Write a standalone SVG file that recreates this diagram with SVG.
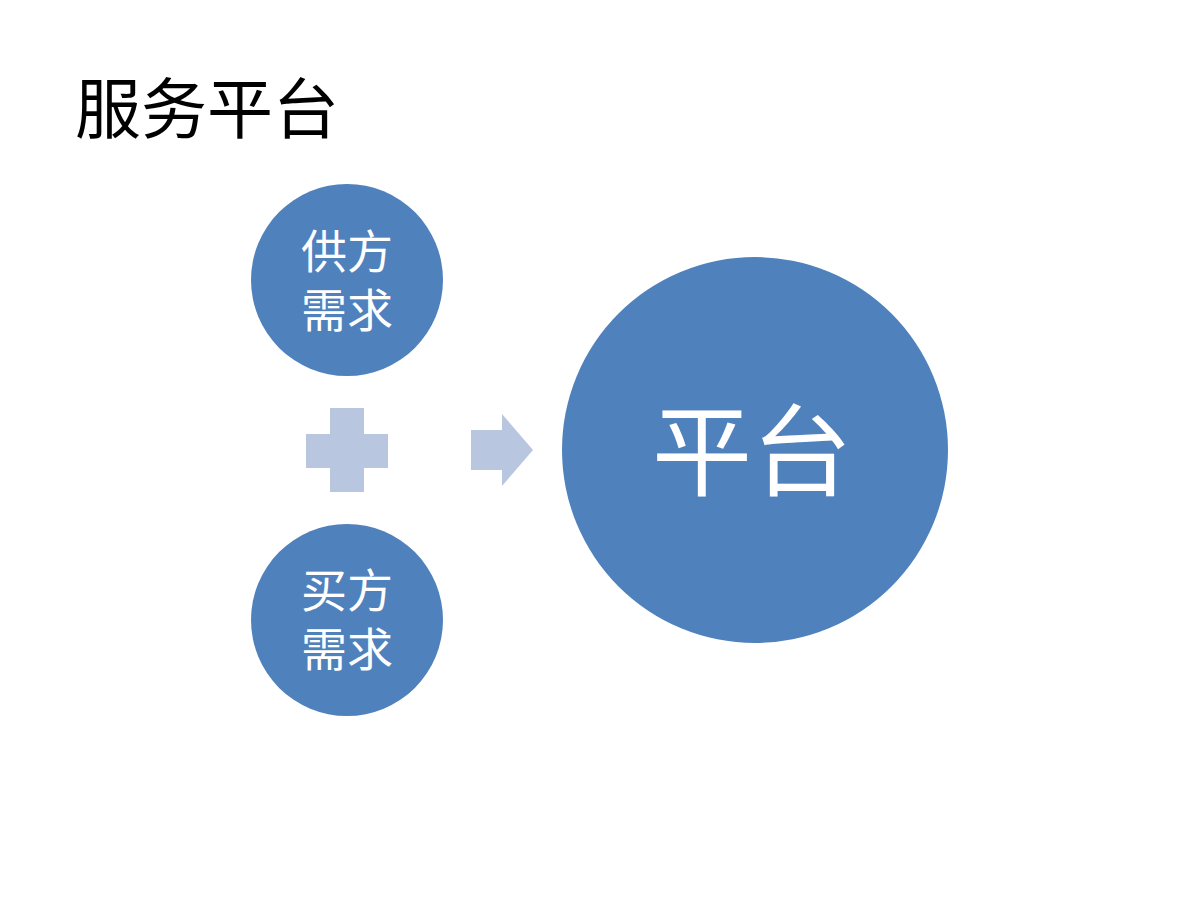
<svg xmlns="http://www.w3.org/2000/svg" width="1200" height="900" viewBox="0 0 1200 900">
<style>
.c{fill:#4f81bd}
.t{font-family:"Liberation Serif","Noto Sans CJK SC",serif;fill:#fff;text-anchor:middle}
.s{fill:#b9c6df}
</style>
<rect width="1200" height="900" fill="#fff"/>
<text x="75" y="133" font-family="Liberation Serif,'Noto Sans CJK SC',serif" font-size="66" fill="#000">服务平台</text>
<g id="supply"><circle class="c" cx="347" cy="280" r="96"/><text class="t" font-size="46" x="347" y="268">供方</text><text class="t" font-size="46" x="347" y="327">需求</text></g>
<g id="buyer"><circle class="c" cx="347" cy="620" r="96"/><text class="t" font-size="46" x="347" y="607">买方</text><text class="t" font-size="46" x="347" y="666">需求</text></g>
<g id="platform"><circle class="c" cx="755" cy="450" r="193"/><text class="t" font-size="100" x="752" y="488">平台</text></g>
<g id="plus"><path class="s" d="M330 408h34v26h24v34h-24v24h-34v-24h-24v-34h24z"/></g>
<g id="connectors"><path class="s" d="M471 430h31v-16l31 36l-31 36v-16h-31z"/></g>
</svg>
